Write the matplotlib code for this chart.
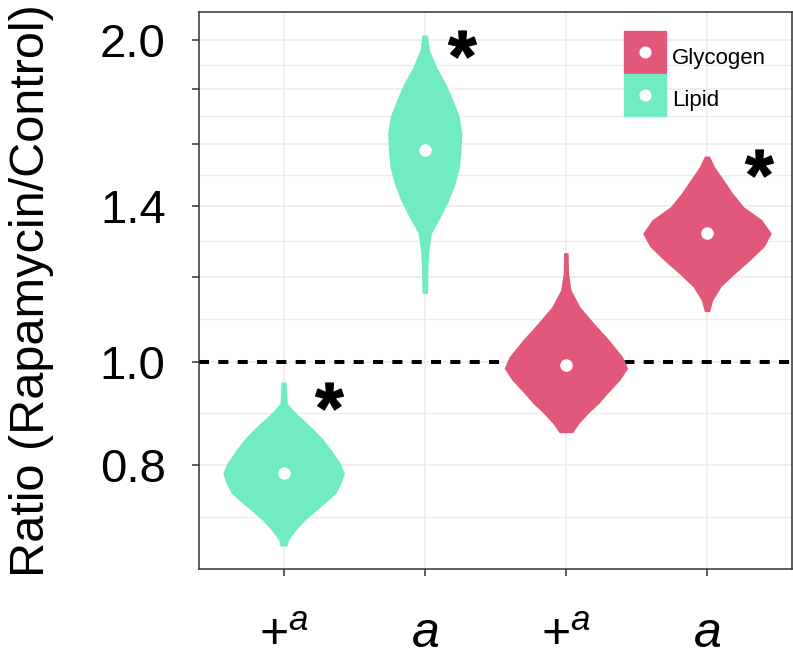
import numpy as np
import matplotlib
matplotlib.use("Agg")
import matplotlib.pyplot as plt
from matplotlib.lines import Line2D
from matplotlib.legend_handler import HandlerTuple
from matplotlib.ticker import FixedLocator, FixedFormatter

plt.rcParams['font.family'] = ['Liberation Sans', 'DejaVu Sans']
plt.rcParams['mathtext.fontset'] = 'custom'
plt.rcParams['mathtext.rm'] = 'Liberation Sans'
plt.rcParams['mathtext.it'] = 'Liberation Sans:italic'
plt.rcParams['mathtext.bf'] = 'Liberation Sans:bold'

groups = ['Lipid', 'Lipid', 'Glycogen', 'Glycogen']
tick_labels = [r'$+^{a}$', r'$a$', r'$+^{a}$', r'$a$']
colors = {'Glycogen': '#E2587A', 'Lipid': '#70ECC0'}

# violin outlines: ratio values + half widths (category units)
lipid_plus_y = [0.957, 0.914, 0.895, 0.869, 0.845, 0.821, 0.803, 0.786,
                0.769, 0.753, 0.732, 0.711, 0.696, 0.681, 0.672]
lipid_plus_w = [0.018, 0.026, 0.088, 0.194, 0.283, 0.353, 0.403, 0.431,
                0.406, 0.371, 0.265, 0.153, 0.088, 0.035, 0.025]

lipid_y = [2.023, 1.959, 1.889, 1.823, 1.758, 1.696, 1.637, 1.579,
           1.523, 1.469, 1.417, 1.367, 1.319, 1.272, 1.227, 1.159]
lipid_w = [0.020, 0.033, 0.083, 0.147, 0.200, 0.245, 0.263, 0.257,
           0.247, 0.216, 0.171, 0.112, 0.047, 0.030, 0.023, 0.020]

glyc_plus_y = [1.265, 1.210, 1.167, 1.126, 1.086, 1.048, 1.011, 0.986,
               0.961, 0.934, 0.914, 0.895, 0.876, 0.858]
glyc_plus_w = [0.016, 0.019, 0.037, 0.099, 0.200, 0.306, 0.401, 0.438,
               0.382, 0.295, 0.233, 0.159, 0.094, 0.047]

glyc_y = [1.558, 1.523, 1.480, 1.438, 1.397, 1.358, 1.319, 1.282,
          1.245, 1.210, 1.176, 1.142, 1.114]
glyc_w = [0.018, 0.053, 0.118, 0.182, 0.259, 0.389, 0.456, 0.406,
          0.306, 0.200, 0.100, 0.041, 0.018]

medians = [0.786, 1.579, 0.993, 1.321]
signif = [True, True, False, True]

violins = [(lipid_plus_y, lipid_plus_w), (lipid_y, lipid_w),
           (glyc_plus_y, glyc_plus_w), (glyc_y, glyc_w)]
positions = np.arange(1, len(violins) + 1)

y_major = [0.8, 1.0, 1.2, 1.4, 1.6, 1.8, 2.0]
y_major_labels = ['0.8', '1.0', '', '1.4', '', '', '2.0']

fig = plt.figure(figsize=(7.93, 6.6), dpi=100)
ax = fig.add_axes([0.2509, 0.1379, 0.7474, 0.8439])
ax.set_yscale('log')

for pos, (vy, vw), g in zip(positions, violins, groups):
    vy = np.array(vy)
    vw = np.array(vw)
    ax.fill_betweenx(vy, pos - vw, pos + vw, color=colors[g], lw=0, zorder=2)

ax.plot(positions, medians, 'o', color='white', ms=8, zorder=3)

# significance stars, placed up and right of each violin
star_pos = [(1.325, 0.929), (2.265, 1.986), (4.371, 1.534)]
for (sx, sy) in star_pos:
    ax.plot(sx, sy, marker=r'$\mathbf{*}$', ms=20, color='black', ls='', zorder=4)

ax.axhline(1.0, color='black', lw=2.9, dashes=(2.5, 2.3), zorder=1.5)

ax.set_xlim(0.4, 4.6)
ax.set_ylim(0.6395, 2.1257)
ax.set_xticks(positions)
ax.set_xticklabels(tick_labels)

b = np.array(y_major)
minor = list(np.sqrt(b[:-1] * b[1:])) + [b[0] * np.sqrt(b[0] / b[1])]
ax.yaxis.set_major_locator(FixedLocator(y_major))
ax.yaxis.set_major_formatter(FixedFormatter(y_major_labels))
ax.yaxis.set_minor_locator(FixedLocator(minor))
ax.yaxis.set_minor_formatter(FixedFormatter([''] * len(minor)))

ax.grid(which='major', color='#EBEBEB', lw=1.1)
ax.grid(which='minor', axis='y', color='#EBEBEB', lw=0.8)
ax.set_axisbelow(True)

for s in ax.spines.values():
    s.set_color('#333333')
    s.set_linewidth(1.1)

ax.tick_params(which='major', length=5, width=1.1, color='#333333')
ax.tick_params(which='minor', length=0)
ax.tick_params(axis='y', labelsize=34, pad=19)
ax.tick_params(axis='x', labelsize=36, pad=25)

ax.set_ylabel('Ratio (Rapamycin/Control)', fontsize=35)
ax.yaxis.set_label_coords(-0.245, 0.5)

handles = [(Line2D([], [], marker='s', ms=30.2, color=colors[g], ls=''),
            Line2D([], [], marker='o', ms=7.7, color='white', ls=''))
           for g in ['Glycogen', 'Lipid']]
ax.legend(handles, ['Glycogen', 'Lipid'], handler_map={tuple: HandlerTuple(ndivide=1)},
          fontsize=16, frameon=False, loc='upper left', bbox_to_anchor=(0.717, 0.9497),
          borderpad=0, borderaxespad=0, handlelength=1.89, handleheight=1.89,
          labelspacing=0.45, handletextpad=0.27)

fig.savefig('out.png', dpi=100)
